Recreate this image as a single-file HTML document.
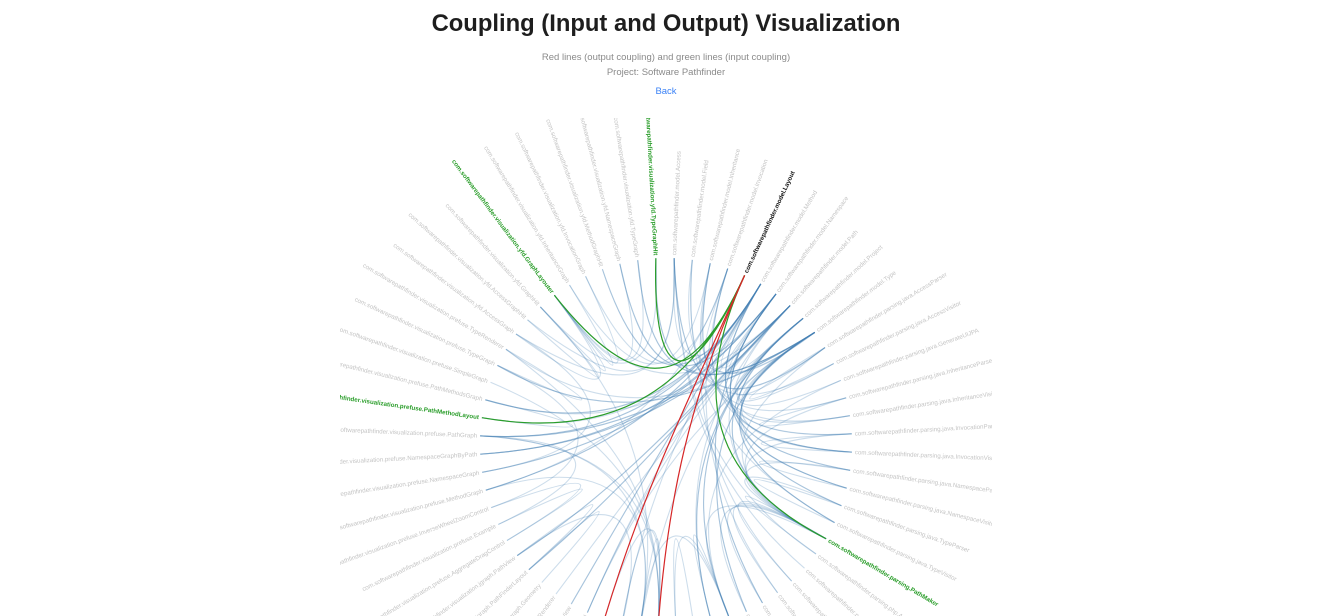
<!DOCTYPE html>
<html><head><meta charset="utf-8">
<style>
html,body{margin:0;padding:0;background:#fff;width:1332px;height:616px;overflow:hidden;font-family:"Liberation Sans",sans-serif;}
#title{position:absolute;left:0;width:1332px;top:10px;text-align:center;font-size:23.8px;font-weight:bold;color:#1e1e1e;margin:0;}
.sub{position:absolute;left:0;width:1332px;text-align:center;font-size:9.5px;color:#8a8a8a;}
#back{position:absolute;left:0;width:1332px;top:86px;text-align:center;font-size:9.5px;color:#3b82f6;text-decoration:none;}
svg{position:absolute;left:0;top:0;}
</style></head><body>
<h1 id="title">Coupling (Input and Output) Visualization</h1>
<div class="sub" style="top:52px">Red lines (output coupling) and green lines (input coupling)</div>
<div class="sub" style="top:67px">Project: Software Pathfinder</div>
<a id="back" href="#">Back</a>
<svg id="chart" width="1332" height="616">
<defs><clipPath id="clip"><rect x="340" y="118" width="652" height="498"/></clipPath></defs>
<g id="plot" clip-path="url(#clip)"></g>
</svg>
<script>
const nodeNames = [
"com.softwarepathfinder.model.Access","com.softwarepathfinder.model.Field","com.softwarepathfinder.model.Inheritance","com.softwarepathfinder.model.Invocation","com.softwarepathfinder.model.Layout","com.softwarepathfinder.model.Method","com.softwarepathfinder.model.Namespace","com.softwarepathfinder.model.Path","com.softwarepathfinder.model.Project","com.softwarepathfinder.model.Type",
"com.softwarepathfinder.parsing.java.AccessParser","com.softwarepathfinder.parsing.java.AccessVisitor","com.softwarepathfinder.parsing.java.GenerateUIJPA","com.softwarepathfinder.parsing.java.InheritanceParser","com.softwarepathfinder.parsing.java.InheritanceVisitor","com.softwarepathfinder.parsing.java.InvocationParser","com.softwarepathfinder.parsing.java.InvocationVisitor","com.softwarepathfinder.parsing.java.NamespaceParser","com.softwarepathfinder.parsing.java.NamespaceVisitor","com.softwarepathfinder.parsing.java.TypeParser","com.softwarepathfinder.parsing.java.TypeVisitor",
"com.softwarepathfinder.parsing.PathMaker","com.softwarepathfinder.parsing.php.AccessParser","com.softwarepathfinder.parsing.php.AccessVisitor","com.softwarepathfinder.parsing.php.InheritanceParser","com.softwarepathfinder.parsing.php.InvocationParser","com.softwarepathfinder.parsing.php.NamespaceParser","com.softwarepathfinder.parsing.php.TypeParser",
"com.softwarepathfinder.ui.MainFrame","com.softwarepathfinder.ui.ProjectDialog","com.softwarepathfinder.util.FileUtil","com.softwarepathfinder.util.Logger","com.softwarepathfinder.visualization.Colors","com.softwarepathfinder.visualization.GraphFactory",
"com.softwarepathfinder.visualization.jgraph.CellRenderer","com.softwarepathfinder.visualization.jgraph.EdgeRenderer","com.softwarepathfinder.visualization.jgraph.GraphModel","com.softwarepathfinder.visualization.jgraph.NodeView","com.softwarepathfinder.visualization.jgraph.PathRenderer","com.softwarepathfinder.visualization.jgraph.Geometry","com.softwarepathfinder.visualization.jgraph.PathFinderLayout","com.softwarepathfinder.visualization.jgraph.PathView",
"com.softwarepathfinder.visualization.prefuse.AggregateDragControl","com.softwarepathfinder.visualization.prefuse.Example","com.softwarepathfinder.visualization.prefuse.InverseWheelZoomControl","com.softwarepathfinder.visualization.prefuse.MethodGraph","com.softwarepathfinder.visualization.prefuse.NamespaceGraph","com.softwarepathfinder.visualization.prefuse.NamespaceGraphByPath","com.softwarepathfinder.visualization.prefuse.PathGraph","com.softwarepathfinder.visualization.prefuse.PathMethodLayout","com.softwarepathfinder.visualization.prefuse.PathMethodsGraph","com.softwarepathfinder.visualization.prefuse.SimpleGraph","com.softwarepathfinder.visualization.prefuse.TypeGraph","com.softwarepathfinder.visualization.prefuse.TypeRenderer",
"com.softwarepathfinder.visualization.yfd.AccessGraph","com.softwarepathfinder.visualization.yfd.AccessGraphHit","com.softwarepathfinder.visualization.yfd.GraphHit","com.softwarepathfinder.visualization.yfd.GraphLayouter","com.softwarepathfinder.visualization.yfd.InheritanceGraph","com.softwarepathfinder.visualization.yfd.InvocationGraph","com.softwarepathfinder.visualization.yfd.MethodGraphHit","com.softwarepathfinder.visualization.yfd.NamespaceGraph","com.softwarepathfinder.visualization.yfd.TypeGraph","com.softwarepathfinder.visualization.yfd.TypeGraphHit"
];
const nodeGroups = [0,0,0,0,0,0,0,0,0,0, 1,1,1,1,1,1,1,1,1,1,1, 2,2,2,2,2,2,2, 3,3,3,3,3,3, 4,4,4,4,4,4,4,4, 5,5,5,5,5,5,5,5,5,5,5,5, 6,6,6,6,6,6,6,6,6,6];
const focusNode = 4;
const inputEdges = [[57,4],[49,4],[63,4],[21,4]];
const outputEdges = [[4,35],[4,32]];
const edges = [
[5,48],[5,49],[5,50],[5,45],[5,16],[5,15],[5,34],[5,37],[5,60],
[6,46],[6,47],[6,18],[6,17],[6,26],[6,61],[6,36],
[7,48],[7,47],[7,21],[7,40],[7,41],[7,50],[7,29],
[8,28],[8,29],[8,21],[8,33],[8,10],[8,19],
[9,52],[9,53],[9,19],[9,20],[9,62],[9,63],[9,27],[9,36],
[10,0],[10,11],[10,1],[11,0],[11,9],[12,8],[12,28],
[13,2],[13,14],[14,2],[14,9],[15,3],[15,16],[16,3],[16,5],[16,9],
[17,6],[17,18],[18,6],[18,9],[19,20],[20,9],[20,1],
[21,8],[21,10],[21,13],[21,15],[21,17],[21,19],[21,22],[21,24],[21,25],[21,26],[21,27],
[22,0],[23,0],[24,2],[25,3],[26,6],[27,9],
[28,8],[28,33],[28,29],[28,21],[28,31],[29,8],[30,31],[33,45],[33,48],[33,56],[33,32],
[34,32],[35,32],[36,7],[37,5],[38,7],[39,40],[40,7],[40,41],[41,7],[41,34],
[42,44],[43,42],[43,48],[44,52],[45,5],[45,3],[46,6],[46,54],[47,6],[47,7],[48,7],[48,5],[48,32],[50,49],[50,5],[51,32],[52,9],[52,53],[53,32],
[54,0],[54,57],[55,56],[55,0],[56,57],[57,7],[58,2],[58,57],[59,3],[59,57],[60,5],[61,6],[61,57],[62,9],[62,57],[63,56],[63,9],
[1,9],[0,5],[3,5],[2,9],[6,8],[7,5],[7,6]
];
const cx = 666, cy = 444, R = 186;
const step = 360 / nodeNames.length, offset = 2.5;
const NS = "http://www.w3.org/2000/svg";
const plot = document.getElementById("plot");
function ang(i){ return offset + i*step; }
function pt(a, r){ const t = a*Math.PI/180; return [cx + r*Math.sin(t), cy - r*Math.cos(t)]; }
function groupAngle(g){
  let s=0,c=0; nodeGroups.forEach((gg,i)=>{ if(gg===g){ const t=ang(i)*Math.PI/180; s+=Math.sin(t); c+=Math.cos(t);} });
  return Math.atan2(s,c)*180/Math.PI;
}
function blend(a, g, w){ let d = ((g - a) % 360 + 540) % 360 - 180; return a + d*w; }
function edgePath(a,b){
  const p0 = pt(ang(a),R), p3 = pt(ang(b),R);
  const ga = nodeGroups[a], gb = nodeGroups[b];
  let c1, c2;
  if(ga===gb){ c1 = pt(ang(a), R*0.35); c2 = pt(ang(b), R*0.35); }
  else {
    c1 = pt(blend(ang(a), groupAngle(ga), 0.45), R*0.3);
    c2 = pt(blend(ang(b), groupAngle(gb), 0.45), R*0.3);
  }
  return `M${p0[0]},${p0[1]} C${c1[0]},${c1[1]} ${c2[0]},${c2[1]} ${p3[0]},${p3[1]}`;
}
const gLinks = document.createElementNS(NS,"g");


plot.appendChild(gLinks);
edges.forEach(e=>{
  const p = document.createElementNS(NS,"path");
  p.setAttribute("d", edgePath(e[0],e[1]));
  p.setAttribute("fill","none"); p.setAttribute("stroke","steelblue"); p.setAttribute("stroke-opacity","0.27"); p.setAttribute("stroke-width","1.1");
  
  
  gLinks.appendChild(p);
});
inputEdges.forEach(e=>{
  const p = document.createElementNS(NS,"path");
  p.setAttribute("d", edgePath(e[0],e[1]));
  p.setAttribute("fill","none"); p.setAttribute("stroke","#2a9d2a"); p.setAttribute("stroke-width","1.2");
  
  
  gLinks.appendChild(p);
});
outputEdges.forEach(e=>{
  const p = document.createElementNS(NS,"path");
  p.setAttribute("d", edgePath(e[0],e[1]));
  p.setAttribute("fill","none"); p.setAttribute("stroke","#d62728"); p.setAttribute("stroke-width","1.2");
  
  
  gLinks.appendChild(p);
});
const inSet = new Set(inputEdges.map(e=>e[0])), outSet = new Set(outputEdges.map(e=>e[1]));
nodeNames.forEach((n,i)=>{
  const a = ang(i);
  const t = document.createElementNS(NS,"text");
  const flip = a >= 180;
  t.setAttribute("transform", `translate(${cx},${cy}) rotate(${a-90}) translate(${R+3},0)${flip?" rotate(180)":""}`);
  t.setAttribute("text-anchor", flip ? "end" : "start");
  t.setAttribute("dy","0.31em");
  t.setAttribute("font-size","6.2");
  t.setAttribute("font-family","Liberation Sans, sans-serif");
  let fill = "#c4c4c4";
  if(i===focusNode){ fill="#111"; t.setAttribute("font-weight","bold"); }
  else if(inSet.has(i)){ fill="#2a9d2a"; t.setAttribute("font-weight","bold"); }
  else if(outSet.has(i)){ fill="#d62728"; t.setAttribute("font-weight","bold"); }
  t.setAttribute("fill", fill);
  t.textContent = n;
  
  
  plot.appendChild(t);
});
</script>
</body></html>
